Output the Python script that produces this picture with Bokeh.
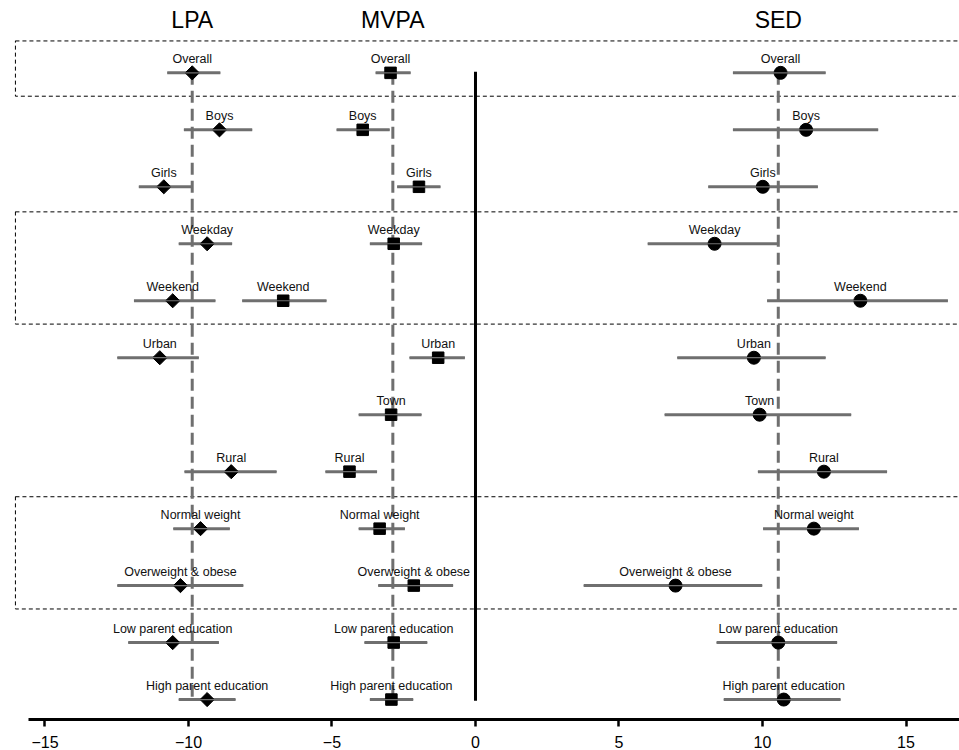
import numpy as np
from bokeh.plotting import figure
from bokeh.models import Range1d, FixedTicker, ColumnDataSource
from bokeh.core.properties import value
from bokeh.embed import file_html
from bokeh.resources import INLINE

categories = ["Overall", "Boys", "Girls", "Weekday", "Weekend", "Urban", "Town",
              "Rural", "Normal weight", "Overweight & obese",
              "Low parent education", "High parent education"]

lpa_est = [-9.87, -8.92, -10.86, -9.35, -10.55, -11.00, np.nan, -8.51, -9.58, -10.28, -10.55, -9.35]
lpa_lo  = [-10.74, -10.16, -11.73, -10.34, -11.90, -12.48, np.nan, -10.14, -10.53, -12.48, -12.10, -10.34]
lpa_hi  = [-8.89, -7.78, -9.87, -8.48, -9.06, -9.64, np.nan, -6.93, -8.56, -8.09, -8.94, -8.36]

mvpa_est = [-2.96, -3.93, -1.97, -2.85, -6.70, -1.30, -2.94, -4.39, -3.34, -2.15, -2.85, -2.93]
mvpa_lo  = [-3.48, -4.84, -2.73, -3.68, -8.13, -2.30, -4.07, -5.23, -4.07, -3.39, -3.87, -3.68]
mvpa_hi  = [-2.26, -2.99, -1.22, -1.86, -5.19, -0.37, -1.88, -3.43, -2.46, -0.78, -1.68, -2.17]

sed_est = [10.63, 11.52, 10.01, 8.33, 13.41, 9.70, 9.90, 12.14, 11.79, 6.97, 10.55, 10.74]
sed_lo  = [8.97, 8.97, 8.11, 6.00, 10.16, 7.03, 6.59, 9.84, 10.02, 3.77, 8.40, 8.65]
sed_hi  = [12.20, 14.03, 11.93, 10.57, 16.46, 12.20, 13.09, 14.34, 13.36, 9.99, 12.60, 12.72]

outcomes = ["LPA", "MVPA", "SED"]
reference_values = [-9.87, -2.88, 10.55]
zero_value = 0
x_ticks = [-15, -10, -5, 0, 5, 10, 15]
# groups of rows enclosed in dashed boxes (first row index, last row index)
boxed_groups = [(0, 0), (3, 4), (8, 9)]

FONT = "Liberation Sans"
GREY = "#6f6f6f"

rows = list(range(len(categories)))
n = len(rows)

p = figure(width=959, height=750, output_backend="svg", toolbar_location=None,
           x_range=Range1d(-16.55, 16.864), y_range=Range1d(11.35, -1.27),
           y_axis_location=None, min_border=0)
p.outline_line_color = None
p.grid.visible = False
p.background_fill_color = "white"

# dashed group boxes
box_src = ColumnDataSource(dict(
    top=[g[0] - 0.56 for g in boxed_groups],
    bottom=[g[1] + 0.41 for g in boxed_groups],
    left=[-16.03] * len(boxed_groups),
    right=[20] * len(boxed_groups)))
p.quad(left="left", right="right", top="top", bottom="bottom", source=box_src,
       fill_color=None, line_color="black", line_width=1, line_dash="4 3")

# reference dashed lines
p.segment(x0=reference_values, x1=reference_values, y0=[rows[0]] * 3, y1=[rows[-1]] * 3,
          line_color=GREY, line_width=3, line_dash="12 6")
# zero line
p.segment(x0=[zero_value], x1=[zero_value], y0=[rows[0] - 0.02], y1=[rows[-1] + 0.02],
          line_color="black", line_width=3)

def add_series(est, lo, hi, marker, size, angle=0.0):
    idx = [i for i in rows if not np.isnan(est[i])]
    src = ColumnDataSource(dict(
        y=[rows[i] for i in idx], est=[est[i] for i in idx],
        lo=[lo[i] for i in idx], hi=[hi[i] for i in idx],
        lab=[categories[i] for i in idx]))
    p.segment(x0="lo", x1="hi", y0="y", y1="y", source=src, line_color=GREY, line_width=3)
    p.scatter(x="est", y="y", source=src, marker=marker, size=size, angle=angle,
              fill_color="black", line_color="black")
    p.segment(x0="lo", x1="hi", y0="y", y1="y", source=src, line_color=GREY, line_width=1.2)
    p.text(x="est", y="y", text="lab", source=src, y_offset=-14,
           text_align="center", text_baseline="alphabetic",
           text_font=value(FONT), text_font_size="12.5px", text_color="#111111")

add_series(lpa_est, lpa_lo, lpa_hi, "square", 10, np.pi / 4)
add_series(mvpa_est, mvpa_lo, mvpa_hi, "square", 11.5)
add_series(sed_est, sed_lo, sed_hi, "circle", 13)

# outcome titles
p.text(x=reference_values, y=[-0.92] * 3, text=outcomes,
       text_align="center", text_baseline="alphabetic",
       text_font=value(FONT), text_font_size="23px", text_color="black")

ax = p.xaxis[0]
ax.ticker = FixedTicker(ticks=x_ticks)
ax.bounds = (-15.57, 16.864)
ax.axis_line_width = 3
ax.axis_line_color = "black"
ax.major_tick_line_width = 2.5
ax.major_tick_line_color = "black"
ax.major_tick_out = 7
ax.major_tick_in = 0
ax.minor_tick_line_color = None
ax.major_label_text_font = FONT
ax.major_label_text_font_size = "16px"
ax.major_label_text_color = "black"
ax.major_label_standoff = 9

open("out.html", "w").write(file_html(p, INLINE))
